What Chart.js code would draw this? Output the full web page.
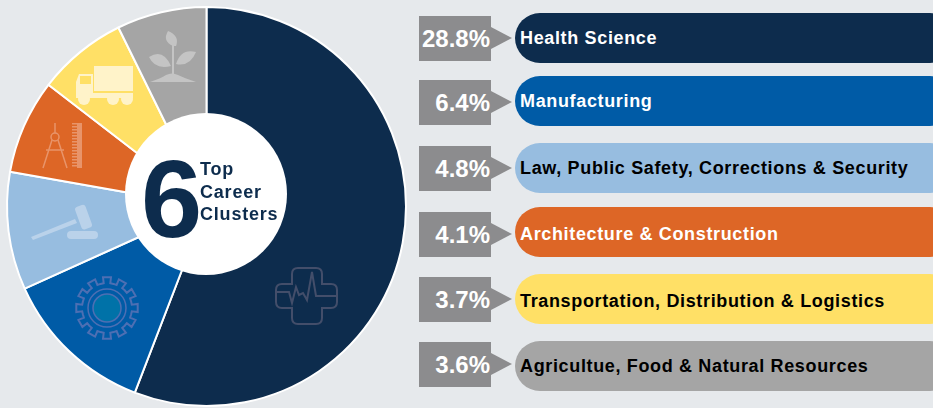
<!DOCTYPE html>
<html lang="en">
<head>
    <meta charset="UTF-8">
    <title>6 Top Career Clusters</title>
    <script src="https://cdn.jsdelivr.net/npm/chart.js"></script>
    <style>
        html, body {
            margin: 0;
            padding: 0;
            width: 933px;
            height: 408px;
            overflow: hidden;
            background-color: #e6e9ec;
            font-family: "Liberation Sans", Arial, sans-serif;
        }
        #chart, #icons { position: absolute; left: 0; top: 0; }
        .hole-text {
            position: absolute;
            color: #0d2c4d;
            font-weight: bold;
            line-height: 1;
            white-space: nowrap;
        }
        .small { font-size: 18px; letter-spacing: 0.8px; }
        .pct {
            position: absolute;
            left: 419px;
            width: 72px;
            height: 45px;
            line-height: 45px;
            background-color: #8c8c8e;
            color: #fff;
            font-size: 24px;
            font-weight: bold;
            text-align: right;
            box-sizing: border-box;
            padding-right: 1px;
        }
        .pct::after {
            content: '';
            position: absolute;
            left: 72px;
            top: 11px;
            border-left: 21px solid #8c8c8e;
            border-top: 11.5px solid transparent;
            border-bottom: 11.5px solid transparent;
        }
        .pill {
            position: absolute;
            left: 515px;
            width: 440px;
            height: 50px;
            border-radius: 25px;
            padding-left: 5px;
            box-sizing: border-box;
            font-size: 18px;
            font-weight: bold;
            letter-spacing: 0.65px;
            white-space: nowrap;
        }
    </style>
</head>
<body>
    <canvas id="chart" width="413" height="413"></canvas>
    <svg id="icons" width="420" height="408" fill="none"></svg>

    <div class="hole-text" style="left:141px;top:144px;font-size:110px;">6</div>
    <div class="hole-text small" style="left:200px;top:160px;">Top</div>
    <div class="hole-text small" style="left:200px;top:183px;">Career</div>
    <div class="hole-text small" style="left:200px;top:205px;">Clusters</div>

    <script>
        const categories = ['Health Science', 'Manufacturing', 'Law, Public Safety, Corrections & Security',
            'Architecture & Construction', 'Transportation, Distribution & Logistics', 'Agricultue, Food & Natural Resources'];
        // printed numbers in the grey tags
        const percentLabels = ['28.8%', '6.4%', '4.8%', '4.1%', '3.7%', '3.6%'];
        // slice sizes, they don't follow the printed numbers exactly
        const sliceValues = [55.86, 12.4, 9.55, 7.65, 7.28, 7.28];
        const colors = ['#0d2c4d', '#005ba6', '#97bde0', '#dd6626', '#ffe066', '#a5a5a5'];
        const textColors = ['#fff', '#fff', '#000', '#fff', '#000', '#000'];
        const pillTops = [13, 76, 143, 207, 274, 341];
        const tagTops = [16, 80, 146, 212, 277, 342];
        // label sits a little off the pill centre, differs per row
        const labelLineHeights = [50, 50, 51, 55, 55, 50];

        // white circle sits a bit above the pie centre, so it is not a cutout
        const holePlugin = {
            id: 'hole',
            afterDatasetsDraw(chart) {
                const c = chart.ctx;
                c.save();
                c.fillStyle = '#fff';
                c.beginPath();
                c.arc(206, 194, 81, 0, Math.PI * 2);
                c.fill();
                c.restore();
            }
        };

        new Chart(document.getElementById('chart'), {
            type: 'pie',
            data: {
                labels: categories,
                datasets: [{
                    data: sliceValues,
                    backgroundColor: colors,
                    borderColor: '#fff',
                    borderWidth: 2
                }]
            },
            options: {
                responsive: false,
                animation: false,
                layout: { padding: 6 },
                plugins: { legend: { display: false }, tooltip: { enabled: false } }
            },
            plugins: [holePlugin]
        });

        categories.forEach((name, i) => {
            const tag = document.createElement('div');
            tag.className = 'pct';
            tag.style.top = tagTops[i] + 'px';
            tag.textContent = percentLabels[i];
            document.body.appendChild(tag);

            const pill = document.createElement('div');
            pill.className = 'pill';
            pill.style.top = pillTops[i] + 'px';
            pill.style.lineHeight = labelLineHeights[i] + 'px';
            pill.style.backgroundColor = colors[i];
            pill.style.color = textColors[i];
            pill.textContent = name;
            document.body.appendChild(pill);
        });

        // gear teeth
        function gearPath(cx, cy, r1, r2, teeth) {
            let d = '';
            const step = Math.PI * 2 / teeth;
            for (let i = 0; i < teeth; i++) {
                const a = i * step - Math.PI / 2;
                const pts = [[r1, -0.5], [r1, -0.25], [r2, -0.25], [r2, 0.25], [r1, 0.25], [r1, 0.5]];
                pts.forEach((p, j) => {
                    const t = a + p[1] * step;
                    d += (i === 0 && j === 0 ? 'M' : 'L') + (cx + p[0] * Math.cos(t)).toFixed(1) + ' ' + (cy + p[0] * Math.sin(t)).toFixed(1);
                });
            }
            return d + 'Z';
        }

        document.getElementById('icons').innerHTML = `
            <g stroke="#434e6a" stroke-width="2">
                <path d="M298 268H316Q322 268 322 274V284H331Q337 284 337 290V302Q337 308 331 308H322V318Q322 324 316 324H298Q292 324 292 318V308H282Q276 308 276 302V290Q276 284 282 284H292V274Q292 268 298 268Z"/>
                <polyline points="276,292 289,292 292,303 296,287 299,295 303,293 307,300 312,272 316,296 337,296"/>
            </g>
            <path d="${gearPath(107, 308, 25, 31, 12)}" stroke="#4d6fb3" stroke-width="2"/>
            <circle cx="107" cy="308" r="19" stroke="#4d6fb3" stroke-width="1.5"/>
            <circle cx="107" cy="308" r="14" fill="#0072a8" stroke="#4d6fb3" stroke-width="1.5"/>
            <g fill="#bad2ea">
                <path d="M31 237L75 219L77 223L33 240Z"/>
                <rect x="78" y="205" width="11" height="24" rx="3" transform="rotate(-20 84 217)"/>
                <rect x="67" y="231" width="31" height="8" rx="4"/>
            </g>
            <g stroke="#e8946a" stroke-width="1.5">
                <circle cx="55" cy="137" r="4"/>
                <path d="M55 123V133M52 140L43 168M58 140L67 168M46 150H64"/>
            </g>
            <rect x="77" y="123" width="5" height="45" fill="#e8946a"/>
            <line x1="74.5" y1="123" x2="74.5" y2="168" stroke="#e8946a" stroke-width="5" stroke-dasharray="1.5 1.5"/>
            <g fill="#fff3c9">
                <rect x="94" y="66" width="39" height="25"/>
                <path d="M76 98V82L79 74H93V93H133V98Z"/>
                <circle cx="84" cy="99" r="6"/>
                <circle cx="113" cy="99" r="6"/>
                <circle cx="127" cy="99" r="6"/>
            </g>
            <rect x="80" y="76" width="11" height="8" fill="#ffe066"/>
            <g fill="#c4c4c4">
                <path d="M168 31Q180 36 176 46L173 46Q162 41 168 31Z"/>
                <path d="M149 57Q163 48 171 66Q155 70 149 57Z"/>
                <path d="M196 52Q181 48 176 64Q190 67 196 52Z"/>
                <rect x="172" y="42" width="2" height="32"/>
                <path d="M150 82Q162 78 166 75Q172 72 178 75Q184 78 196 82Z"/>
            </g>`;
    </script>
</body>
</html>
